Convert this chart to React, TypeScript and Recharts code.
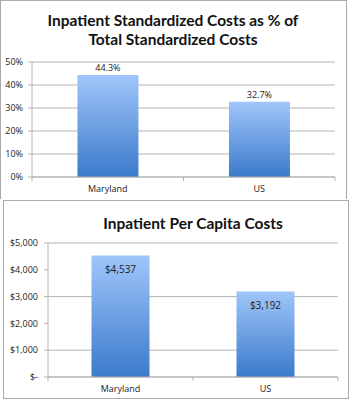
import { Bar, BarChart, CartesianGrid, LabelList, XAxis, YAxis } from "recharts";

const regions = ["Maryland", "US"];
const sharePct = [0.443, 0.327];
const perCapita = [4537, 3192];
const pctTicks = [0, 0.1, 0.2, 0.3, 0.4, 0.5];
const dollarTicks = [0, 1000, 2000, 3000, 4000, 5000];
const slotTicks = [0, 0.5, 1, 1.5, 2];

const shareData = regions.map((name, i) => ({ name, slot: i + 0.5, value: sharePct[i] }));
const capitaData = regions.map((name, i) => ({ name, slot: i + 0.5, value: perCapita[i] }));

const TICK_FONT = "'Open Sans', sans-serif";
const TITLE_FONT = "Lato, sans-serif";
const GRID = "#b4b4b4";

// integer slots get a tick mark, half slots get the category name
function SlotTick(props: any) {
  const { x, y, payload } = props;
  const v = Number(payload.value);
  if (Number.isInteger(v)) {
    return <line x1={x} x2={x} y1={y - 8} y2={y - 4} stroke={GRID} />;
  }
  const label = regions[Math.floor(v)];
  return (
    <text x={x} y={y + 7} textAnchor="middle" fontSize={9} fontFamily={TICK_FONT} fill="#222">
      {label}
    </text>
  );
}

function Gradient({ id }: { id: string }) {
  return (
    <defs>
      <linearGradient id={id} x1="0" y1="0" x2="0" y2="1">
        <stop offset="0%" stopColor="#a0c6fa" />
        <stop offset="100%" stopColor="#3b7acb" />
      </linearGradient>
    </defs>
  );
}

const fmtPct = (v: number) => `${Math.round(v * 100)}%`;
const fmtDollar = (v: number) => (v === 0 ? "$-" : `$${v.toLocaleString("en-US")}`);

export default function App() {
  return (
    <div style={{ position: "absolute", left: 0, top: 0, width: 351, height: 400, background: "#fff" }}>
      <div style={{ position: "absolute", left: 0, top: 0, width: 345, height: 198, borderLeft: "1px solid #aaa", borderTop: "1px solid #aaa", borderRight: "1px solid #aaa" }} />
      <div style={{ position: "absolute", left: 3, top: 200, width: 344, height: 197, border: "1px solid #aaa" }} />

      <div style={{ position: "absolute", left: 0, top: 11, width: 346, textAlign: "center", fontFamily: TITLE_FONT, fontWeight: 700, fontSize: 15.5, lineHeight: "19px", color: "#111" }}>
        Inpatient Standardized Costs as % of
        <br />
        Total Standardized Costs
      </div>
      <div style={{ position: "absolute", left: 0, top: 0 }}>
        <BarChart width={351} height={200} data={shareData} margin={{ top: 62, right: 16, bottom: 0, left: 0 }} barCategoryGap="30%">
          <Gradient id="gA" />
          <CartesianGrid vertical={false} stroke={GRID} />
          <XAxis dataKey="name" hide height={0} />
          <XAxis xAxisId="slot" dataKey="slot" type="number" domain={[0, 2]} allowDataOverflow ticks={slotTicks} interval={0} height={23} stroke={GRID} tickLine={false} tick={<SlotTick />} />
          <YAxis domain={[0, 0.5]} ticks={pctTicks} tickFormatter={fmtPct} width={32} stroke={GRID} tickSize={4} tickMargin={5} tick={{ fontSize: 9, fontFamily: TICK_FONT, fill: "#222" }} />
          <Bar dataKey="value" fill="url(#gA)" isAnimationActive={false}>
            <LabelList dataKey="value" position="top" offset={4} formatter={(v: any) => `${(v * 100).toFixed(1)}%`} style={{ fontSize: 9, fontFamily: TICK_FONT, fill: "#222" }} />
          </Bar>
        </BarChart>
      </div>

      <div style={{ position: "absolute", left: 3, top: 214, width: 380, textAlign: "center", fontFamily: TITLE_FONT, fontWeight: 700, fontSize: 15.5, lineHeight: "19px", color: "#111" }}>
        Inpatient Per Capita Costs
      </div>
      <div style={{ position: "absolute", left: 0, top: 200 }}>
        <BarChart width={351} height={200} data={capitaData} margin={{ top: 43, right: 13, bottom: 0, left: 0 }} barCategoryGap="30%">
          <Gradient id="gB" />
          <CartesianGrid vertical={false} stroke={GRID} />
          <XAxis dataKey="name" hide height={0} />
          <XAxis xAxisId="slot" dataKey="slot" type="number" domain={[0, 2]} allowDataOverflow ticks={slotTicks} interval={0} height={23} stroke={GRID} tickLine={false} tick={<SlotTick />} />
          <YAxis domain={[0, 5000]} ticks={dollarTicks} tickFormatter={fmtDollar} width={48} stroke={GRID} tickSize={4} tickMargin={6} tick={{ fontSize: 9, fontFamily: TICK_FONT, fill: "#222" }} />
          <Bar dataKey="value" fill="url(#gB)" isAnimationActive={false}>
            <LabelList dataKey="value" position="insideTop" offset={10} formatter={(v: any) => `$${v.toLocaleString("en-US")}`} style={{ fontSize: 10, fontFamily: TICK_FONT, fill: "#222" }} />
          </Bar>
        </BarChart>
      </div>
    </div>
  );
}
